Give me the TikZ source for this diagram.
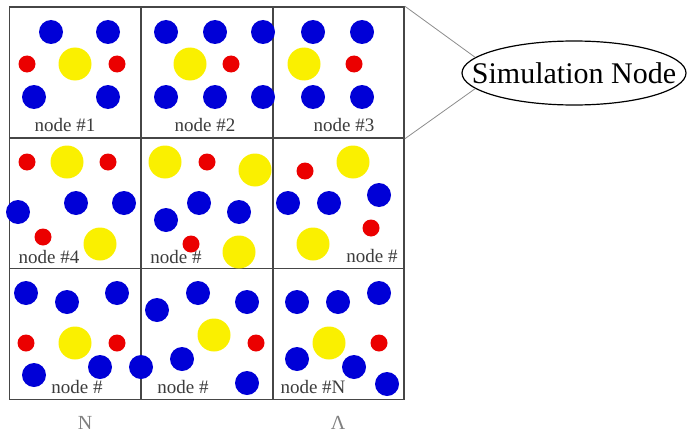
\documentclass[tikz,border=0pt]{standalone}
\usepackage{fontspec}
\setmainfont{Liberation Serif}
\usetikzlibrary{shapes.geometric, positioning}
\definecolor{ballblue}{RGB}{0,0,215}
\definecolor{ballred}{RGB}{235,0,0}
\definecolor{ballyellow}{RGB}{250,240,0}
\definecolor{gridgray}{RGB}{70,70,70}
\definecolor{linkgray}{RGB}{140,140,140}
\definecolor{labelgray}{RGB}{60,60,60}
\tikzset{
  cellbox/.style={rectangle, draw=gridgray, line width=1.6pt, minimum width=131pt, minimum height=131pt, inner sep=0pt},
  cellname/.style={font=\fontsize{19}{19}\selectfont, text=labelgray, inner sep=0pt},
  simnode/.style={ellipse, draw=black, line width=1.2pt, minimum width=224pt, minimum height=64pt, inner sep=0pt},
  link/.style={draw=linkgray, line width=0.8pt},
  mark label/.style={font=\fontsize{20}{20}\selectfont, text=gray, inner sep=0pt}
}

\begin{document}
\begin{tikzpicture}[x=1pt, y=-1pt]
        \useasboundingbox (0,0) rectangle (687,436);

        % Rejilla de nodos
        \foreach \n/\cx/\cy in {
            1/75/72.5, 2/207/72.5, 3/338.5/72.5,
            4/75/203, 5/207/203, 6/338.5/203,
            7/75/334, 8/207/334, 9/338.5/334
        } {
            \node[cellbox] (c\n) at (\cx,\cy) {};
        }

        % Nombres de los nodos
        \node[cellname] (n1) at (65,125) {node \#1};
        \node[cellname] (n2) at (205,125) {node \#2};
        \node[cellname] (n3) at (344,125) {node \#3};
        \node[cellname] (n4) at (49,257) {node \#4};
        \node[cellname] (n5) at (176,257) {node \#};
        \node[cellname] (n6) at (372,256) {node \#};
        \node[cellname] (n7) at (77,387) {node \#};
        \node[cellname] (n8) at (183,387) {node \#};
        \node[cellname] (n9) at (313,387) {node \#N};

        % Particulas azules
        \foreach \x/\y in {
            51/32, 108/32, 34/97, 108/97,
            166/32, 215/32, 263/32, 166/97, 215/97, 263/97,
            313/32, 362/32, 313/97, 362/97,
            18/212, 76/203, 124/203,
            166/220, 199/203, 239/212,
            288/203, 329/203, 379/195,
            26/293, 67/302, 117/293, 34/375, 100/367, 141/367,
            157/310, 198/293, 247/302, 182/359, 247/383,
            297/302, 338/302, 379/293, 297/359, 354/367, 387/384
        } {
            \fill[ballblue] (\x,\y) circle (12pt);
        }

        % Particulas amarillas
        \foreach \x/\y in {
            75/64, 190/64, 304/64,
            67/162, 100/244,
            165/162, 255/170, 239/252,
            353/162, 313/244,
            75/343, 214/335, 329/343
        } {
            \fill[ballyellow] (\x,\y) circle (16.5pt);
        }

        % Particulas rojas
        \foreach \x/\y in {
            27/64, 117/64, 231/64, 354/64,
            27/162, 108/162, 43/237,
            207/162, 191/244,
            305/171, 371/228,
            26/343, 117/343, 256/343, 379/343
        } {
            \fill[ballred] (\x,\y) circle (8.5pt);
        }

        % Nodo de simulacion
        \node[simnode, label={[font=\fontsize{30}{30}\selectfont]center:Simulation Node}] (sim) at (574,73) {};
        \draw[link] (c3.north east) -- (sim.171);
        \draw[link] (c3.south east) -- (sim.189);

        % Marcas inferiores
        \node[mark label] (mN) at (85,423) {N};
        \node[mark label] (mA) at (338,423) {Λ};

\end{tikzpicture}
\end{document}
